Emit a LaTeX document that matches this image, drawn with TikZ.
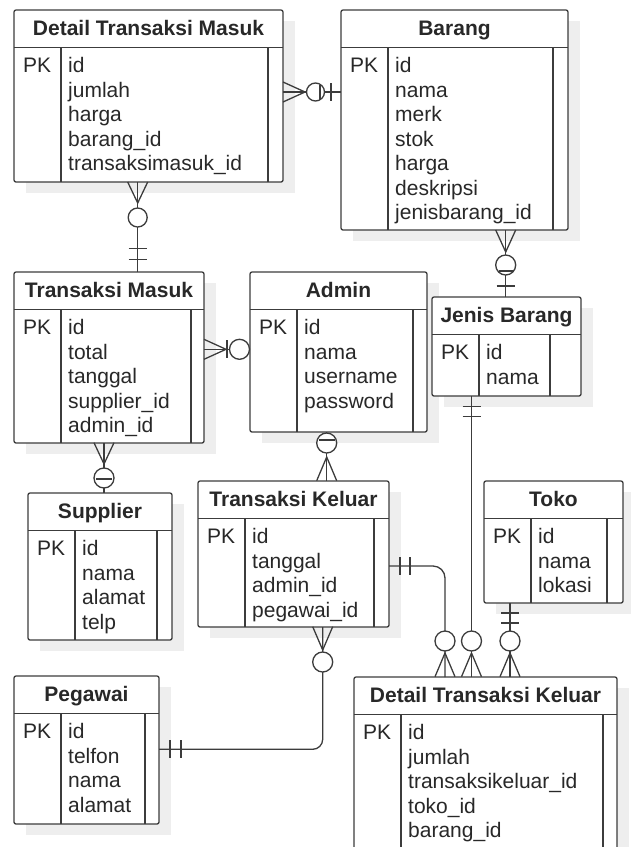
\documentclass[tikz,border=0pt]{standalone}
\usepackage{fontspec}
\setmainfont{Liberation Sans}
\usetikzlibrary{fit}
\definecolor{linec}{RGB}{60,60,60}
\definecolor{textc}{RGB}{40,40,40}
\definecolor{shadowc}{RGB}{238,238,238}
\tikzset{
  ln/.style={draw=linec, line width=1.3pt},
  tbl/.style={draw=linec, line width=1.3pt, fill=white, rounded corners=2pt, inner sep=0pt, outer sep=0pt},
  ttl/.style={font=\fontsize{21}{24}\selectfont\bfseries, text=textc, inner sep=0pt},
  fld/.style={font=\fontsize{21}{24}\selectfont, text=textc, inner sep=0pt},
  conn/.style={draw=linec, line width=1.3pt},
  oc/.style={draw=linec, line width=1.3pt, fill=white},
}
\newcommand\ershadow[4]{\fill[shadowc] (#1+12,#2+11) rectangle (#3+12,#4+11);}
\newcommand\ertable[8]{%
  \node[tbl, fit={(#2,#3) (#4,#5)}] (#1) {};
  \draw[ln] (#2,#3+37.5) -- (#4,#3+37.5);
  \draw[ln] (#2+47,#3+37.5) -- (#2+47,#5);
  \draw[ln] (#4-#6,#3+37.5) -- (#4-#6,#5);
  \node[ttl, anchor=base] (#1-title) at ({(#2+#4)/2},#3+25) {#7};
  \node[fld, anchor=base west] (#1-pk) at (#2+9,#3+62.5) {PK};
  \foreach \f [count=\i from 0] in {#8} {\node[fld, anchor=base west] (#1-f\i) at (#2+54,#3+62.5+24.5*\i) {\f};}
}
\newcommand\crowH[3]{\draw[conn] (#1,#3-10) -- (#2,#3) -- (#1,#3+10);}
\newcommand\crowV[3]{\draw[conn] (#1-10,#2) -- (#1,#3) -- (#1+10,#2);}
\newcommand\barH[2]{\draw[conn] (#1,#2-9) -- (#1,#2+9);}
\newcommand\barV[2]{\draw[conn] (#1-9,#2) -- (#1+9,#2);}
\newcommand\ocirc[2]{\draw[oc] (#1,#2) circle[radius=10pt];}
\begin{document}
\begin{tikzpicture}[x=1pt,y=-1pt]
\useasboundingbox (0,0) rectangle (630,847);
% shadows
\ershadow{14}{10}{283}{182}
\ershadow{341}{10}{568}{230}
\ershadow{14}{272}{204}{443}
\ershadow{250}{272}{427}{432}
\ershadow{432}{297}{581}{396}
\ershadow{28}{493}{172}{640}
\ershadow{198}{481}{389}{627}
\ershadow{484}{481}{623}{603}
\ershadow{14}{676}{159}{824}
\ershadow{354}{677}{617}{849}
% tables
\ertable{dtm}{14}{10}{283}{182}{15}{Detail Transaksi Masuk}{id,jumlah,harga,barang\_id,transaksimasuk\_id}
\ertable{barang}{341}{10}{568}{230}{15}{Barang}{id,nama,merk,stok,harga,deskripsi,jenisbarang\_id}
\ertable{tm}{14}{272}{204}{443}{13}{Transaksi Masuk}{id,total,tanggal,supplier\_id,admin\_id}
\ertable{admin}{250}{272}{427}{432}{14}{Admin}{id,nama,username,password}
\ertable{jb}{432}{297}{581}{396}{31}{Jenis Barang}{id,nama}
\ertable{supplier}{28}{493}{172}{640}{15}{Supplier}{id,nama,alamat,telp}
\ertable{tk}{198}{481}{389}{627}{15}{Transaksi Keluar}{id,tanggal,admin\_id,pegawai\_id}
\ertable{toko}{484}{481}{623}{603}{16}{Toko}{id,nama,lokasi}
\ertable{pegawai}{14}{676}{159}{824}{14}{Pegawai}{id,telfon,nama,alamat}
\ertable{dtk}{354}{677}{617}{849}{14}{Detail Transaksi Keluar}{id,jumlah,transaksikeluar\_id,toko\_id,barang\_id}
% C1 dtm - barang
\draw[conn] (dtm.east |- 0,92) -- (barang.west |- 0,92);
\crowH{283}{305}{92}
\draw[oc] (315.5,92) circle[radius=9pt];
\draw[conn] (320,84.5) -- (320,99.5);
\barH{331}{92}
% C2 dtm - tm
\draw[conn] (dtm.south -| 137.7,0) -- (tm.north -| 137.7,0);
\crowV{137.7}{182}{203}
\draw[oc] (137.7,217.5) circle[radius=9.5pt];
\barV{137.7}{248.5}
\barV{137.7}{259.5}
% C3 barang - jb
\draw[conn] (barang.south -| 505.7,0) -- (jb.north -| 505.7,0);
\crowV{505.7}{230}{252}
\ocirc{505.7}{265}
\draw[conn] (498.7,271) -- (512.7,271);
\barV{505.7}{286}
% C4 tm - admin
\draw[conn] (tm.east |- 0,349.3) -- (admin.west |- 0,349.3);
\crowH{204}{226}{349.3}
\barH{227}{349.3}
\ocirc{239.5}{349.3}
% C5 tm - supplier
\draw[conn] (tm.south -| 104,0) -- (supplier.north -| 104,0);
\crowV{104}{442.7}{464}
\ocirc{104}{478}
\draw[conn] (96,479) -- (112,479);
% C6 admin - tk
\draw[conn] (admin.south -| 326.7,0) -- (tk.north -| 326.7,0);
\ocirc{326.7}{443}
\draw[conn] (318.7,440) -- (334.7,440);
\crowV{326.7}{480.7}{457}
% C7 tk - pegawai
\draw[conn, rounded corners=10pt] (tk.south -| 322.7,0) |- (pegawai.east |- 0,749.3);
\crowV{322.7}{626.7}{650}
\ocirc{322.7}{662}
\barH{170}{749.3}
\barH{181}{749.3}
% C8 tk - dtk
\draw[conn, rounded corners=12pt] (tk.east |- 0,566) -| (dtk.north -| 445,0);
\barH{400}{566}
\barH{410}{566}
\ocirc{445}{641}
\crowV{445}{676.7}{653}
% C9 jb - dtk
\draw[conn] (jb.south -| 471.5,0) -- (dtk.north -| 471.5,0);
\barV{471.5}{406.7}
\barV{471.5}{416.7}
\ocirc{471.5}{641}
\crowV{471.5}{676.7}{653}
% C10 toko - dtk
\draw[conn] (toko.south -| 510,0) -- (dtk.north -| 510,0);
\barV{510}{613}
\barV{510}{623}
\ocirc{510}{641}
\crowV{510}{676.7}{653}
\end{tikzpicture}
\end{document}
